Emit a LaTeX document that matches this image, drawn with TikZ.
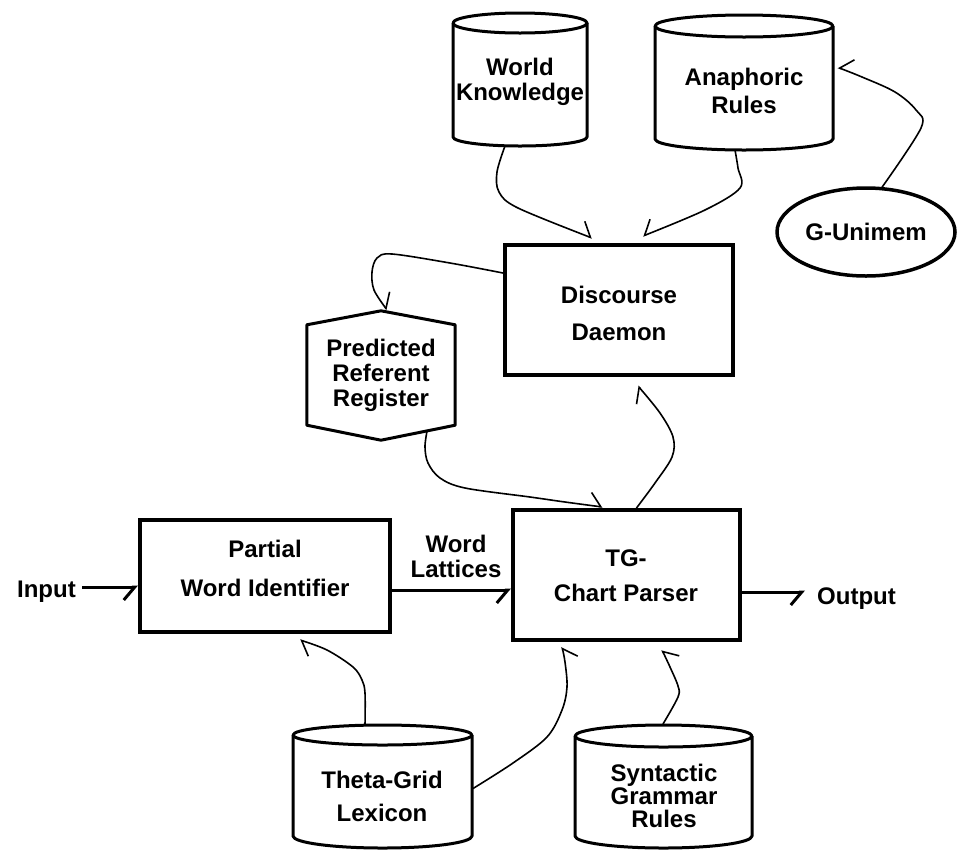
\documentclass[tikz,border=0pt]{standalone}
\usepackage{fontspec}
\setmainfont{Liberation Sans}
\usetikzlibrary{arrows.meta,shapes.geometric,calc}
\tikzset{
  lbl/.style={font=\fontsize{24}{#1}\selectfont\bfseries, align=center, inner sep=0pt},
  lbl/.default=25,
  boxnode/.style={draw, line width=4pt, inner sep=0pt},
  cylbody/.style={inner sep=0pt, outer sep=0pt},
  cylline/.style={line width=3pt, line join=round},
  conn/.style={line width=1.6pt, line join=round, line cap=round},
  thickconn/.style={line width=3pt},
  hl/.style={-{Straight Barb[left,length=11pt,width=26pt]}},
  hr/.style={-{Straight Barb[right,length=11pt,width=26pt]}},
}
% name, left x, right x, top ellipse centre y, side bottom y, top radius, bottom radius
\newcommand\drawcyl[7]{%
  \pgfmathsetmacro\cylW{#3-#2}%
  \pgfmathsetmacro\cylH{#5-#4}%
  \pgfmathsetmacro\cylX{(#2+#3)/2}%
  \pgfmathsetmacro\cylY{(#4+#5)/2}%
  \pgfmathsetmacro\cylR{(#3-#2)/2}%
  \node[cylbody, minimum width=\cylW pt, minimum height=\cylH pt] (#1) at (\cylX,\cylY) {};
  \draw[cylline] (#2,#4) -- (#2,#5) arc[start angle=180, end angle=360, x radius=\cylR pt, y radius=#7pt] -- (#3,#4);
  \draw[cylline] (\cylX,#4) ellipse[x radius=\cylR pt, y radius=#6pt];
}
\begin{document}
\begin{tikzpicture}[x=1pt, y=-1pt]
\fill[white] (0,0) rectangle (957,855);
\useasboundingbox (0,0) rectangle (957,855);

% cylinders
\drawcyl{wk}{453}{587}{23}{137}{10}{9}
\drawcyl{ar}{655}{833}{26}{139}{11}{11}
\drawcyl{tgl}{293}{472}{735}{836}{10}{12}
\drawcyl{sgr}{575}{752}{736}{836}{11}{12}
\node[lbl=25] (wkT) at (520,82) {World\\Knowledge};
\node[lbl=28] (arT) at (744,91) {Anaphoric\\Rules};
\node[lbl=33] (tglT) at (382,796) {Theta-Grid\\Lexicon};
\node[lbl=23] (sgrT) at (664,796) {Syntactic\\Grammar\\Rules};

% boxes
\node[boxnode, minimum width=228pt, minimum height=130pt] (dd) at (619,310) {};
\node[lbl=37] (ddT) at (619,313) {Discourse\\Daemon};
\node[boxnode, minimum width=250pt, minimum height=112pt] (pwi) at (265,576) {};
\node[lbl=39] (pwiT) at (265,568) {Partial\\Word Identifier};
\node[boxnode, minimum width=227pt, minimum height=130pt] (tg) at (626.5,575) {};
\node[lbl=35] (tgT) at (626,576) {TG-\\Chart Parser};

% hexagon register
\node[lbl=25, minimum width=148pt, minimum height=100pt] (prr) at (381,375) {Predicted\\Referent\\Register};
\draw[cylline] (prr.north west) -- ($(prr.north)+(0,-14)$) -- (prr.north east) -- (prr.south east) -- ($(prr.south)+(0,15)$) -- (prr.south west) -- cycle;

% ellipse
\node[draw, ellipse, line width=3.5pt, minimum width=178pt, minimum height=88pt, lbl] (gu) at (866,232) {G-Unimem};

% free labels
\node[lbl, anchor=base east] (input) at (76,597) {Input};
\node[lbl, anchor=base west] (output) at (817,604) {Output};
\node[lbl=25] (wlT) at (456,556) {Word\\Lattices};

% connector end points
\coordinate (c1a) at ($(wk.south)+(-15,9)$);
\coordinate (c1b) at ($(dd.north)+(-27,-5)$);
\coordinate (c2a) at ($(ar.south)+(-9,11)$);
\coordinate (c2b) at ($(dd.north)+(24,-7)$);
\coordinate (c3a) at ($(gu.north)+(16,1)$);
\coordinate (c3b) at ($(ar.east)+(5,-15)$);
\coordinate (c4a) at ($(dd.west)+(0,-37)$);
\coordinate (c4b) at ($(prr.north)+(6,-15)$);
\coordinate (c5a) at ($(prr.south)+(46,6)$);
\coordinate (c5b) at ($(tg.north)+(-24,-1)$);
\coordinate (c6a) at ($(tg.north)+(10,0)$);
\coordinate (c6b) at ($(dd.south)+(19,9)$);
\coordinate (c10a) at ($(tgl.north)+(-17.5,-10)$);
\coordinate (c10b) at ($(pwi.south)+(35,6)$);
\coordinate (c11a) at ($(tgl.east)+(1,3)$);
\coordinate (c11b) at ($(tg.south)+(-64.5,5)$);
\coordinate (c12a) at ($(sgr.north)+(-0.5,-12)$);
\coordinate (c12b) at ($(tg.south)+(35.5,8)$);

% connectors
\draw[conn,hl] plot[smooth,tension=0.55] coordinates {(c1a) (497,172) (499,192) (518,208) (c1b)};
\draw[conn,hr] plot[smooth,tension=0.55] coordinates {(c2a) (738,168) (740,188) (705,210) (c2b)};
\draw[conn,hr] plot[smooth,tension=0.55] coordinates {(c3a) (921,128) (916,110) (895,92) (862,77) (c3b)};
\draw[conn,hl] plot[smooth,tension=0.55] coordinates {(c4a) (450,263) (392,254) (377,258) (372,272) (374,290) (c4b)};
\draw[conn,hl] plot[smooth,tension=0.55] coordinates {(c5a) (425,447) (428,463) (440,478) (465,488) (530,497) (565,502) (c5b)};
\draw[conn,hl] plot[smooth,tension=0.55] coordinates {(c6a) (655,483) (672,457) (673,437) (660,413) (c6b)};
\draw[conn,hl] plot[smooth,tension=0.55] coordinates {(c10a) (365,693) (362,680) (353,667) (327,650) (c10b)};
\draw[conn,hr] plot[smooth,tension=0.55] coordinates {(c11a) (513,763) (547,737) (562,710) (567,687) (565,662) (c11b)};
\draw[conn,hr] plot[smooth,tension=0.55] coordinates {(c12a) (678,697) (678,686) (670,667) (c12b)};

\draw[thickconn,hr] ($(input.base east)+(6,-10)$) -- ($(pwi.west)+(0,11)$);
\draw[thickconn,hr] ($(pwi.east)+(0,14)$) -- ($(tg.west)+(0,15)$);
\draw[thickconn,hr] ($(tg.east)+(0,17)$) -- ($(output.base west)+(-12,-12)$);
\end{tikzpicture}
\end{document}
